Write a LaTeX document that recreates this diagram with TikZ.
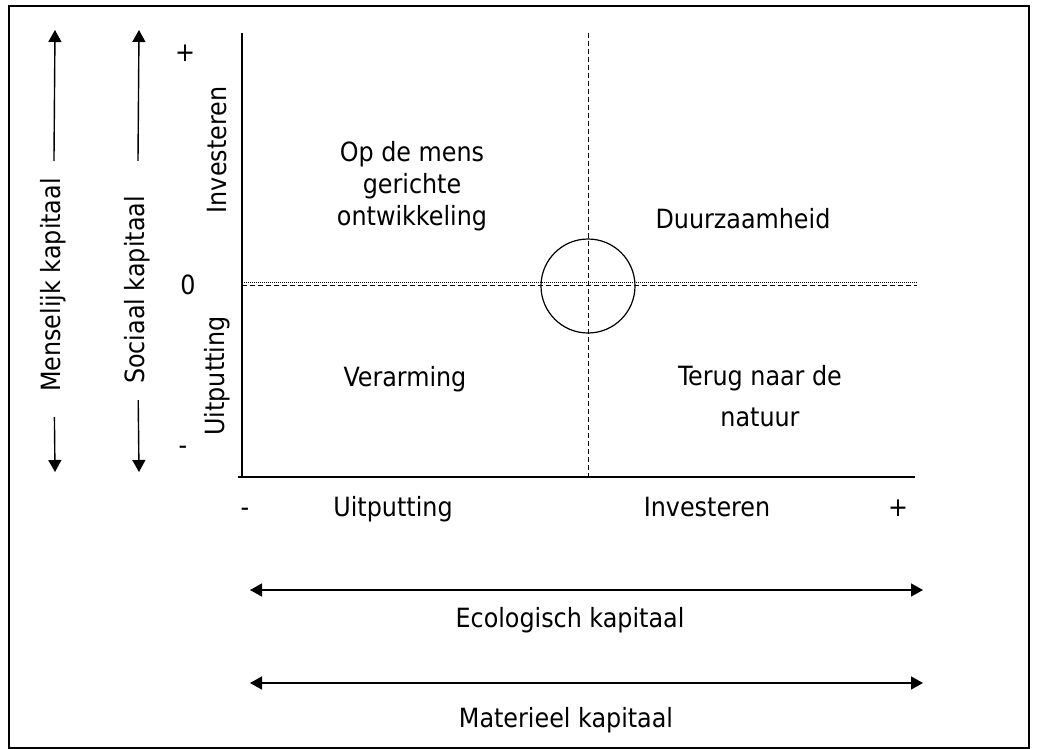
\documentclass[tikz,border=0pt]{standalone}
\usepackage{fontspec}
\setmainfont{DejaVu Sans Condensed}
\usetikzlibrary{arrows.meta,positioning}

\tikzset{
  lbl/.style={font=\fontsize{26.5}{32}\selectfont, inner sep=0pt, align=center},
  tip/.style={line width=1.4pt, -{Triangle[width=13pt,length=12pt]}},
  both/.style={line width=1.4pt, {Triangle[width=13pt,length=12pt]}-{Triangle[width=13pt,length=12pt]}},
  cross/.style={line width=1pt, dash pattern=on 5pt off 3pt}
}

\begin{document}
\begin{tikzpicture}[x=1pt,y=-1pt]
\useasboundingbox (0,0) rectangle (1037,749);
\draw[line width=1.5pt] (9,6) rectangle (1029,748);

% axes
\coordinate (vtop) at (242,33);
\coordinate (corner) at (242,477);
\coordinate (hleft) at (238,477);
\coordinate (hright) at (915,477);
\draw[line width=1.4pt] (vtop) -- (corner);
\draw[line width=1.4pt] (hleft) -- (hright);

% middle lines
\coordinate (mtop) at (588,33);
\coordinate (mbot) at (588,477);
\coordinate (zl) at (242,285.7);
\coordinate (zr) at (917,285.7);
\coordinate (dl) at (242,282.3);
\coordinate (dr) at (917,282.3);
\draw[cross] (mtop) -- (mbot);
\draw[cross] (zl) -- (zr);
\draw[line width=1pt, dash pattern=on 1pt off 1pt] (dl) -- (dr);
\node[circle, draw, line width=1.2pt, minimum size=94pt, inner sep=0pt] (zero) at (588,286) {};

% left scales
\node[lbl, rotate=90] (mk) at (53,285) {Menselijk kapitaal};
\node[lbl, rotate=90] (sk) at (137,290) {Sociaal kapitaal};
\coordinate (mkup) at (55,30);
\coordinate (mkdown) at (55,472);
\coordinate (skup) at (139,30);
\coordinate (skdown) at (139,472);
\draw[tip, shorten <=17pt] (mk) -- (mkup);
\draw[tip, shorten <=25pt] (mk) -- (mkdown);
\draw[tip, shorten <=35pt] (sk) -- (skup);
\draw[tip, shorten <=16pt] (sk) -- (skdown);

\node[lbl] (yplus) at (185,53) {+};
\node[lbl] (yzero) at (188,285) {0};
\node[lbl] (ymin) at (183,450) {-};
\node[lbl, rotate=90] (yinv) at (217,150) {Investeren};
\node[lbl, rotate=90] (yuit) at (217,376) {Uitputting};

% quadrants
\node[lbl] (mens) at (412,186) {Op de mens\\gerichte\\ontwikkeling};
\node[lbl] (duur) at (743,219) {Duurzaamheid};
\node[lbl] (arm) at (405,379) {Verarming};
\node[lbl, font=\fontsize{26.5}{41}\selectfont] (terug) at (760,396) {Terug naar de\\natuur};

% bottom scale
\node[lbl, anchor=base] (xmin) at (245,516) {-};
\node[lbl, anchor=base] (xuit) at (393,516) {Uitputting};
\node[lbl, anchor=base] (xinv) at (707,516) {Investeren};
\node[lbl, anchor=base] (xplus) at (898,516) {+};

\coordinate (ekl) at (250,590);
\coordinate (ekr) at (923,590);
\draw[both] (ekl) -- (ekr);
\node[lbl] (ek) at (570,620) {Ecologisch kapitaal};
\coordinate (mal) at (250,683);
\coordinate (mar) at (923,683);
\draw[both] (mal) -- (mar);
\node[lbl] (ma) at (566,720) {Materieel kapitaal};
\end{tikzpicture}
\end{document}
